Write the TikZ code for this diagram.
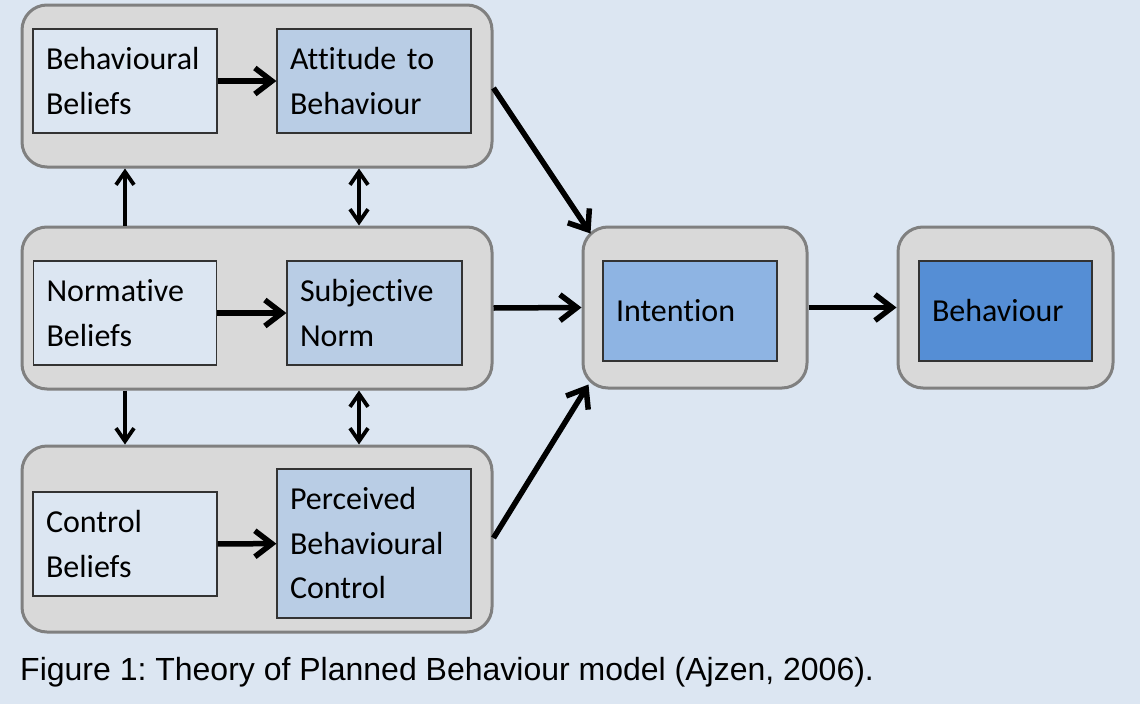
\documentclass[tikz,border=0pt]{standalone}
\usepackage{fontspec}
\setmainfont{Carlito}[Ligatures=NoCommon]
\newfontfamily\capfont{Liberation Sans}
\usepackage{xcolor}
\usepackage{tikz}
\usetikzlibrary{shapes,arrows,arrows.meta,positioning,fit}

\definecolor{bgblue}{RGB}{220,230,242}
\definecolor{grpgray}{RGB}{217,217,217}
\definecolor{grpline}{RGB}{128,128,128}
\definecolor{midblue}{RGB}{185,205,229}
\definecolor{intblue}{RGB}{142,180,227}
\definecolor{behblue}{RGB}{85,142,213}

\frenchspacing
\begin{document}
\begin{tikzpicture}[
    x=1pt,y=-1pt,
    group/.style={rectangle,rounded corners=25pt,draw=grpline,fill=grpgray,line width=3pt,inner sep=0pt},
    box/.style={rectangle,draw=black!80,line width=1.2pt,inner xsep=13pt,inner ysep=0pt,align=left,
        font=\fontsize{32}{44.5}\selectfont},
    belief/.style={box,fill=bgblue},
    factor/.style={box,fill=midblue},
    arrow/.style={-{Straight Barb[length=17pt,width=26pt]},line width=5.5pt},
    link/.style={-{Straight Barb[length=13pt,width=18pt]},line width=3.8pt},
    dbllink/.style={{Straight Barb[length=13pt,width=18pt]}-{Straight Barb[length=13pt,width=18pt]},line width=3.8pt}
]
    \useasboundingbox (0,0) rectangle (1140,704);
    \fill[bgblue] (0,0) rectangle (1140,704);

    % grey groups
    \node[group,minimum width=470pt,minimum height=162pt] (grpAtt) at (257,86) {};
    \node[group,minimum width=470pt,minimum height=162pt] (grpNorm) at (257,308) {};
    \node[group,minimum width=470pt,minimum height=186pt] (grpCtrl) at (257,539) {};
    \node[group,minimum width=224pt,minimum height=161pt] (grpInt) at (695,307.5) {};
    \node[group,minimum width=215pt,minimum height=161pt] (grpBeh) at (1005.5,307.5) {};

    % inner boxes
    \node[belief,text width=158pt,minimum height=104pt] (behBel) at (125,81) {Behavioural\\Beliefs};
    \node[factor,text width=168pt,minimum height=104pt] (att) at (374,81) {Attitude to\\Behaviour};
    \node[belief,text width=157pt,minimum height=104pt] (normBel) at (125,313) {Normative\\Beliefs};
    \node[factor,text width=149pt,minimum height=104pt] (subNorm) at (374.5,313) {Subjective\\Norm};
    \node[belief,text width=158pt,minimum height=104pt] (ctrlBel) at (125,544) {Control\\Beliefs};
    \node[factor,text width=168pt,minimum height=149pt] (pbc) at (374,543.5) {Perceived\\Behavioural\\Control};
    \node[box,fill=intblue,text width=148pt,minimum height=100pt] (intention) at (690,311) {Intention};
    \node[box,fill=behblue,text width=147pt,minimum height=100pt] (behaviour) at (1005.5,311) {Behaviour};

    % arrows inside groups
    \draw[arrow] (behBel) -- (att);
    \draw[arrow] (normBel) -- (subNorm);
    \draw[arrow] (ctrlBel) -- (pbc);

    % arrows between groups
    \draw[link] ([xshift=-132pt]grpNorm.north) -- ([xshift=-132pt]grpAtt.south);
    \draw[link] ([xshift=-132pt]grpNorm.south) -- ([xshift=-132pt]grpCtrl.north);
    \draw[dbllink] ([xshift=102pt]grpAtt.south) -- ([xshift=102pt]grpNorm.north);
    \draw[dbllink] ([xshift=102pt]grpNorm.south) -- ([xshift=102pt]grpCtrl.north);

    \draw[arrow] ([yshift=-2pt]grpAtt.east) -- ([shift={(9,8)}]grpInt.north west);
    \draw[arrow] (grpNorm.east) -- (grpInt.west);
    \draw[arrow] ([yshift=1pt]grpCtrl.east) -- ([shift={(7,-5)}]grpInt.south west);
    \draw[arrow] (grpInt.east) -- (grpBeh.west);

    \node[anchor=base west,inner sep=0pt,font=\capfont\fontsize{32}{38}\selectfont] (caption) at (20,680)
        {Figure 1: Theory of Planned Behaviour model (Ajzen, 2006).};
\end{tikzpicture}
\end{document}
